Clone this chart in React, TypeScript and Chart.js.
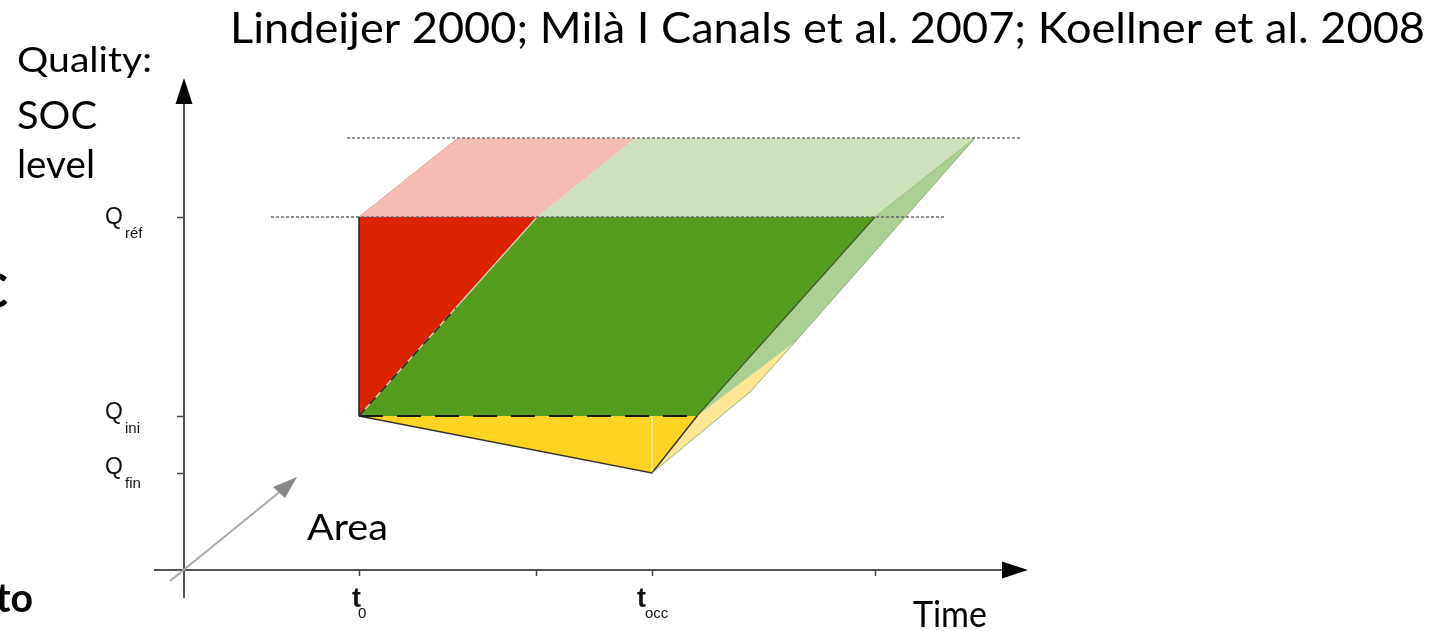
import React, { useEffect, useRef } from "react";
import { Chart, registerables } from "chart.js";

Chart.register(...registerables);

// ---- value ranges (x: time, y: quality; arbitrary units) ----
const xRange = [-1.84, 12.51];
const yRange = [-0.61, 5.7];

// tick positions and labels
const timeTicks = [1.75, 3.52, 4.68, 6.91];
const timeLabels = ["t", "", "t", ""];
const timeSubs = ["0", "", "occ", ""];
const qualityTicks = [3.53, 1.54, 0.97];
const qualitySubs = ["réf", "ini", "fin"];

// reference levels (dotted lines)
const topLevelX = [1.63, 8.36];
const topLevelY = [4.32, 4.32];
const refLevelX = [0.87, 7.6];
const refLevelY = [3.53, 3.53];

// polygons
const yellowX = [1.75, 5.13, 4.68, 1.75];
const yellowY = [1.54, 1.54, 0.97, 1.54];
const paleYellowX = [4.68, 5.13, 6.11, 5.66, 4.68];
const paleYellowY = [0.97, 1.54, 2.28, 1.78, 0.97];
const sideGreenX = [5.13, 6.91, 7.91, 6.11, 5.13];
const sideGreenY = [1.54, 3.53, 4.32, 2.28, 1.54];
const redX = [1.75, 1.75, 3.53, 1.75];
const redY = [3.53, 1.54, 3.53, 3.53];
const greenX = [1.75, 3.53, 6.91, 5.13, 1.75];
const greenY = [1.54, 3.53, 3.53, 1.54, 1.54];
const pinkX = [1.75, 2.74, 4.52, 3.53, 1.75];
const pinkY = [3.53, 4.32, 4.32, 3.53, 3.53];
const paleGreenX = [3.53, 4.52, 7.91, 6.91, 3.53];
const paleGreenY = [3.53, 4.32, 4.32, 3.53, 3.53];

// edges
const redEdgeX = [1.75, 1.75];
const redEdgeY = [3.53, 1.54];
const yellowEdgeX = [1.75, 4.68, 5.13];
const yellowEdgeY = [1.54, 0.97, 1.54];
const greenEdgeX = [5.13, 6.91];
const greenEdgeY = [1.54, 3.53];
const outerEdgeX = [7.91, 6.11, 5.66, 4.68];
const outerEdgeY = [4.32, 2.28, 1.78, 0.97];
const pinkEdgeX = [1.75, 2.74];
const pinkEdgeY = [3.53, 4.32];
const topRightEdgeX = [6.91, 7.91];
const topRightEdgeY = [3.53, 4.32];
const yellowSeamX = [4.68, 4.68];
const yellowSeamY = [1.54, 0.97];
const iniDashX = [1.75, 5.13];
const iniDashY = [1.54, 1.54];
const diagX = [1.75, 3.53];
const diagY = [1.54, 3.53];
const diagDarkX = [1.75, 2.72];
const diagDarkY = [1.54, 2.62];

// axes
const yAxisX = [0, 0];
const yAxisY = [-0.28, 4.72];
const yArrowX = [0, -0.085, 0.085, 0];
const yArrowY = [4.92, 4.66, 4.66, 4.92];
const xAxisX = [-0.3, 8.22];
const xAxisY = [0, 0];
const xArrowX = [8.44, 8.18, 8.18, 8.44];
const xArrowY = [0, 0.085, -0.085, 0];
const areaX = [-0.14, 0.98];
const areaY = [-0.11, 0.8];
const areaArrowX = [1.13, 0.89, 1.01, 1.13];
const areaArrowY = [0.93, 0.83, 0.72, 0.93];

// label layout offsets (pixels, relative to ticks)
const qLabelDy = [7, 3, 1];
const tLabelDx = [-7, 0, -15, 0];
const tSubDx = [-1, 0, -7, 0];

const pts = (xs: number[], ys: number[]) => xs.map((x, i) => ({ x, y: ys[i] }));

function shape(xs: number[], ys: number[], color: string, border = "transparent", bw = 0) {
  return {
    data: pts(xs, ys),
    showLine: true,
    fill: "shape",
    backgroundColor: color,
    borderColor: border,
    borderWidth: bw,
    pointRadius: 0,
    tension: 0,
  };
}

function line(xs: number[], ys: number[], color: string, bw: number, dash: number[] = []) {
  return {
    data: pts(xs, ys),
    showLine: true,
    fill: false,
    borderColor: color,
    borderWidth: bw,
    borderDash: dash,
    pointRadius: 0,
    tension: 0,
  };
}

function drawFit(
  ctx: CanvasRenderingContext2D,
  text: string,
  x: number,
  y: number,
  font: string,
  width: number | null,
  align: "left" | "right" = "left",
  color = "#000"
) {
  ctx.save();
  ctx.font = font;
  ctx.fillStyle = color;
  ctx.textBaseline = "alphabetic";
  ctx.textAlign = align;
  const w = ctx.measureText(text).width;
  const sx = width ? width / w : 1;
  ctx.translate(x, y);
  ctx.scale(sx, 1);
  ctx.fillText(text, 0, 0);
  ctx.restore();
}

const MAIN = "Lato, 'Open Sans', sans-serif";
const AX = "'Liberation Sans', Arial, sans-serif";

const textPlugin = {
  id: "texts",
  afterDraw(chart: any) {
    const ctx = chart.ctx as CanvasRenderingContext2D;
    const xs = chart.scales.x;
    const ys = chart.scales.y;
    drawFit(ctx, "Lindeijer 2000; Milà I Canals et al. 2007; Koellner et al. 2008", 230, 43, `400 42px ${MAIN}`, 1195);
    drawFit(ctx, "Quality:", 17, 72, `400 35px ${MAIN}`, 135);
    drawFit(ctx, "SOC", 17, 129, `400 38px ${MAIN}`, 80);
    drawFit(ctx, "level", 17, 178, `400 38px ${MAIN}`, 78);
    drawFit(ctx, "Area", 307, 540, `400 37px ${MAIN}`, 81);
    drawFit(ctx, "Time", 913, 627, `400 37px ${MAIN}`, 74);
    drawFit(ctx, "C", 8, 308, `700 48px ${MAIN}`, null, "right");
    drawFit(ctx, "to", 33, 612, `700 40px ${MAIN}`, 37, "right");

    // quality tick labels
    qualityTicks.forEach((v, i) => {
      const py = ys.getPixelForValue(v) + qLabelDy[i];
      const px = xs.getPixelForValue(0);
      drawFit(ctx, "Q", px - 79, py, `400 23px ${AX}`, null, "left", "#111");
      drawFit(ctx, qualitySubs[i], px - 59, py + 14, `400 15px ${AX}`, null, "left", "#111");
    });
    // time tick labels
    timeTicks.forEach((v, i) => {
      if (!timeLabels[i]) return;
      const px = xs.getPixelForValue(v);
      const py = ys.getPixelForValue(0);
      drawFit(ctx, timeLabels[i], px + tLabelDx[i], py + 37, `700 27px ${AX}`, null, "left", "#111");
      drawFit(ctx, timeSubs[i], px + tSubDx[i], py + 48, `400 15px ${AX}`, null, "left", "#111");
    });
  },
};

const tickPlugin = {
  id: "ticks",
  afterDatasetsDraw(chart: any) {
    const ctx = chart.ctx as CanvasRenderingContext2D;
    const xs = chart.scales.x;
    const ys = chart.scales.y;
    const ox = xs.getPixelForValue(0);
    const oy = ys.getPixelForValue(0);
    ctx.save();
    ctx.strokeStyle = "#444";
    ctx.lineWidth = 1.5;
    timeTicks.forEach((v) => {
      const px = Math.round(xs.getPixelForValue(v)) + 0.5;
      ctx.beginPath();
      ctx.moveTo(px, oy);
      ctx.lineTo(px, oy + 6);
      ctx.stroke();
    });
    qualityTicks.forEach((v) => {
      const py = Math.round(ys.getPixelForValue(v)) + 0.5;
      ctx.beginPath();
      ctx.moveTo(ox - 7, py);
      ctx.lineTo(ox, py);
      ctx.stroke();
    });
    ctx.restore();
  },
};

export default function App() {
  const ref = useRef<HTMLCanvasElement>(null);
  useEffect(() => {
    document.body.style.margin = "0";
    const datasets: any[] = [
      shape(yellowX, yellowY, "#fed322"),
      line(yellowSeamX, yellowSeamY, "rgba(255,236,150,0.9)", 1),
      shape(paleYellowX, paleYellowY, "rgba(253,224,120,0.8)"),
      shape(sideGreenX, sideGreenY, "rgba(150,196,120,0.8)"),
      shape(redX, redY, "#dc2300"),
      shape(greenX, greenY, "#559d1e"),
      shape(pinkX, pinkY, "#f4bcb4"),
      shape(paleGreenX, paleGreenY, "#cde2bc"),
      line(redEdgeX, redEdgeY, "#222", 1.5),
      line(yellowEdgeX, yellowEdgeY, "#333", 1.5),
      line(greenEdgeX, greenEdgeY, "#3d5a2a", 1.2),
      line(outerEdgeX, outerEdgeY, "rgba(140,170,120,0.9)", 1),
      line(pinkEdgeX, pinkEdgeY, "#dca59c", 1),
      line(topRightEdgeX, topRightEdgeY, "#8fbf78", 1),
      line(diagX, diagY, "rgba(230,230,220,0.8)", 1.2),
      line(diagDarkX, diagDarkY, "#222", 1.5, [9, 7]),
      line(iniDashX, iniDashY, "#1a1a1a", 2, [24, 14]),
      line(topLevelX, topLevelY, "#777", 1.5, [3, 2]),
      line(refLevelX, refLevelY, "#666", 1.5, [3, 2]),
      line(yAxisX, yAxisY, "#555", 2),
      shape(yArrowX, yArrowY, "#000"),
      line(xAxisX, xAxisY, "#555", 2),
      shape(xArrowX, xArrowY, "#000"),
      line(areaX, areaY, "#aaa", 2),
      shape(areaArrowX, areaArrowY, "#888"),
    ];
    const n = datasets.length;
    datasets.forEach((d, i) => (d.order = n - i));
    const chart = new Chart(ref.current!, {
      type: "scatter",
      data: { datasets },
      options: {
        responsive: false,
        animation: false,
        devicePixelRatio: 1,
        layout: { padding: 0 },
        plugins: { legend: { display: false }, tooltip: { enabled: false } },
        scales: {
          x: { type: "linear", min: xRange[0], max: xRange[1], display: false },
          y: { type: "linear", min: yRange[0], max: yRange[1], display: false },
        },
      },
      plugins: [tickPlugin, textPlugin],
    } as any);
    return () => chart.destroy();
  }, []);
  return (
    <div style={{ position: "absolute", left: 0, top: 0, width: 1435, height: 631, background: "#fff" }}>
      <canvas ref={ref} width={1435} height={631} style={{ display: "block" }} />
    </div>
  );
}
